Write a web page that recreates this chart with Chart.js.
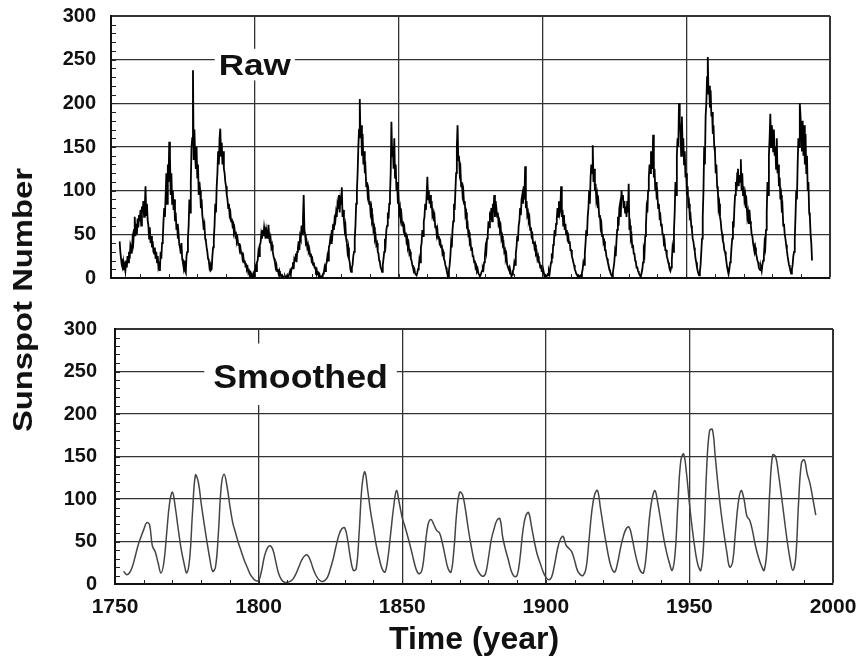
<!DOCTYPE html>
<html>
<head>
<meta charset="utf-8">
<script src="https://cdn.jsdelivr.net/npm/chart.js@4.4.1/dist/chart.umd.min.js"></script>
<style>
  html, body { margin: 0; padding: 0; background: #fff; }
  #wrap { position: relative; width: 861px; height: 670px; overflow: hidden; }
  #rawCanvas { position: absolute; left: 0; top: 0; }
  #smoothCanvas { position: absolute; left: 0; top: 300px; }
  #yTitle {
    position: absolute; left: 23px; top: 300px;
    font: bold 28px "Liberation Sans", Arial, sans-serif; color: #111;
    white-space: nowrap;
    transform: translate(-50%, -50%) rotate(-90deg) scaleX(1.17);
  }
</style>
</head>
<body>
<div id="wrap">
  <canvas id="rawCanvas" width="861" height="300"></canvas>
  <canvas id="smoothCanvas" width="861" height="370"></canvas>
  <div id="yTitle">Sunspot Number</div>
</div>
<script>
// tick labels
const yearTicks = [1750, 1800, 1850, 1900, 1950, 2000];
const countTicks = [0, 50, 100, 150, 200, 250, 300];

// raw series: 4 readings per year starting 1753
const rawStartYear = 1753;
const rawPerYear = 4;
const rawValues = [
  42,30,22,15, 12,18,9,14, 8,20,12,25, 18,30,22,38, 35,28,45,40,            // 1753
  55,70,48,62, 50,68,58,72, 65,78,60,82, 75,88,70,80, 105,72,85,66,         // 1758
  60,45,58,40, 48,35,42,30, 28,35,22,30, 18,25,12,15, 8,30,22,40,           // 1763
  45,65,80,70, 95,120,85,130, 110,156,140,95, 120,85,100,78, 90,65,75,55,   // 1768
  62,45,50,38, 35,28,40,22, 18,12,20,8, 6,25,30,45, 60,90,75,110,           // 1773
  150,160,238,135, 170,140,125,150, 115,130,95,110, 100,80,90,72, 65,55,60,45, // 1778
  42,35,30,22, 20,12,15,9, 10,25,35,45, 60,85,75,105, 120,145,130,160,      // 1783
  171,140,155,130, 145,125,120,110, 105,95,90,80, 85,72,75,65, 68,60,62,52, // 1788
  55,48,50,42, 45,38,40,32, 35,28,30,22, 25,18,20,14, 15,10,12,6,           // 1793
  8,4,6,2, 3,1,5,2, 6,12,8,18, 20,30,25,38, 40,50,45,55,                    // 1798
  48,58,52,45, 55,50,45,61, 48,40,45,35, 38,30,25,22, 18,12,15,8,           // 1803
  10,5,8,3, 4,2,3,0, 1,0,2,0, 1,3,0,2, 5,8,4,10,                            // 1808
  12,18,10,22, 20,28,18,30, 35,42,32,48, 45,60,50,68, 95,55,50,40,          // 1813
  42,35,38,30, 32,25,28,20, 22,15,18,12, 12,8,10,5, 6,2,4,0,                // 1818
  1,2,0,5, 6,12,8,15, 18,25,20,35, 38,45,40,55, 50,62,55,68,                // 1823
  65,75,70,85, 80,95,75,90, 85,104,70,78, 65,55,60,45, 40,30,35,22,         // 1828
  18,10,7,12, 15,25,30,45, 60,85,100,120, 150,170,205,160, 175,140,165,130, // 1833
  145,120,125,105, 110,95,100,85, 88,75,80,65, 68,55,58,45, 48,38,40,30,    // 1838
  28,20,18,12, 10,7,15,22, 30,45,40,55, 60,75,68,85, 95,120,179,140,        // 1843
  150,125,160,115, 130,100,110,85, 90,75,80,68, 72,60,65,55, 58,48,52,42,   // 1848
  45,35,38,28, 30,22,20,15, 12,8,10,5, 4,3,6,10, 12,22,18,35,               // 1853
  40,55,48,65, 70,85,78,95, 116,90,100,85, 95,80,88,72, 75,65,70,58,        // 1858
  60,50,55,45, 48,40,42,35, 38,28,30,22, 20,15,12,8, 5,2,8,15,              // 1863
  25,40,35,55, 65,85,78,100, 120,150,175,135, 140,120,125,105, 110,95,100,85, // 1868
  88,72,75,60, 62,50,52,40, 42,32,35,25, 25,18,20,12, 14,8,10,5,            // 1873
  4,2,3,6, 8,12,10,18, 25,35,30,45, 50,65,58,72, 70,80,65,85,               // 1878
  75,95,70,88, 80,70,75,62, 65,55,58,45, 48,38,40,30, 32,22,25,15,          // 1883
  15,10,12,5, 6,2,4,8, 10,18,15,28, 35,48,42,60, 65,80,72,90,               // 1888
  95,85,105,90, 128,80,88,72, 75,65,68,55, 58,48,50,40, 42,35,38,28,        // 1893
  30,22,25,18, 18,12,15,8, 8,5,6,2, 3,0,2,4, 3,8,5,12,                      // 1898
  18,28,22,38, 42,55,48,62, 68,80,70,88, 75,80,105,70, 78,60,72,55,         // 1903
  62,50,55,45, 48,40,42,32, 32,25,22,18, 15,10,8,5, 4,2,3,1,                // 1908
  1,3,2,6, 10,18,15,28, 40,55,48,70, 80,100,85,115, 130,120,152,110,        // 1913
  125,100,108,90, 95,80,85,70, 72,58,62,48, 50,40,42,32, 32,25,22,18,       // 1918
  15,10,8,5, 3,2,6,12, 18,30,25,42, 55,70,60,80, 85,70,100,90,              // 1923
  95,80,88,75, 82,70,88,75, 108,55,60,45, 48,35,38,28, 28,20,18,12,         // 1928
  12,8,6,4, 3,2,6,10, 18,32,28,48, 60,80,75,100, 115,130,120,145,           // 1933
  140,125,164,115, 125,100,110,90, 95,80,85,70, 72,60,62,50, 50,40,42,32,   // 1938
  32,25,22,18, 15,10,8,12, 20,35,30,55, 75,110,95,140, 160,150,200,180,     // 1943
  170,140,185,150, 160,130,145,115, 120,95,105,80, 85,70,72,60, 55,45,42,35, // 1948
  30,22,18,12, 8,5,3,7, 15,30,45,70, 100,150,130,185, 200,230,253,210,      // 1953
  220,195,215,185, 190,165,175,150, 145,120,130,105, 100,80,85,70, 65,55,50,42, // 1958
  40,32,30,25, 18,12,8,5, 10,18,22,35, 45,65,58,80, 95,110,100,120,         // 1963
  125,105,118,110, 136,100,120,95, 105,90,95,80, 85,70,75,62, 78,65,60,50,  // 1968
  48,40,35,30, 35,28,25,20, 18,12,10,9, 12,8,15,20, 25,40,35,55,            // 1973
  75,110,95,140, 160,188,150,175, 165,145,170,140, 150,125,160,120, 130,105,115,90, // 1978
  95,75,80,60, 62,50,45,38, 32,25,20,15, 12,8,5,10, 15,25,30,45,            // 1983
  70,100,90,130, 160,150,200,185, 170,145,180,140, 175,130,165,120, 140,100,110,75, // 1988
  70,50,40,20                                                               // 1993
];

// smoothed series: one value per year starting 1753
const smoothStartYear = 1753;
const smoothValues = [
  15,11,13,20,32,45,55,64,72,70,       // 1753
  45,38,25,13,25,60,95,108,90,65,      // 1763
  42,25,13,30,85,128,120,95,72,50,     // 1773
  30,15,20,60,115,129,115,92,72,60,    // 1783
  48,38,28,20,12,7,4,4,15,32,          // 1793
  42,45,40,26,12,5,2,2,3,6,            // 1803
  12,20,28,33,34,28,18,10,5,3,         // 1813
  4,8,18,30,45,58,65,66,52,30,         // 1823
  16,18,60,115,132,110,85,65,45,30,    // 1833
  18,14,30,60,90,110,95,78,67,55,      // 1843
  42,28,16,12,18,45,70,76,70,63,       // 1853
  60,48,32,18,14,40,85,108,105,88,     // 1863
  65,45,28,18,12,9,12,30,52,65,        // 1873
  75,77,55,40,28,15,9,10,30,62,        // 1883
  80,84,68,50,35,25,15,8,5,8,          // 1893
  22,40,52,56,46,42,38,28,16,11,       // 1903
  10,18,50,85,105,110,90,68,48,30,     // 1913
  18,14,25,42,56,65,67,55,38,24,       // 1923
  15,13,35,75,100,110,95,75,55,38,     // 1933
  25,16,35,95,145,153,130,95,65,40,    // 1943
  22,16,50,135,180,182,150,115,85,60,  // 1953
  38,20,25,60,95,110,100,80,75,62,     // 1963
  45,32,22,16,40,110,152,150,130,105,  // 1973
  78,52,30,16,30,95,142,146,130,118,   // 1983
  100,81                               // 1993
];

const panelLabels = ["Raw", "Smoothed"];

const FONT = '"Liberation Sans", Arial, Helvetica, sans-serif';

const rawPoints = rawValues.map((v, i) => ({ x: rawStartYear + i / rawPerYear, y: v }));
const smoothPoints = smoothValues.map((v, i) => ({ x: smoothStartYear + i, y: v }));

// label with white box behind it, drawn over the grid
const panelLabel = {
  id: "panelLabel",
  beforeDatasetsDraw(chart, args, o) {
    const { ctx, scales } = chart;
    const x = scales.x.getPixelForValue(o.x);
    const y = scales.y.getPixelForValue(o.y);
    ctx.save();
    ctx.font = "bold " + o.size + "px " + FONT;
    const w = ctx.measureText(o.text).width * o.stretch;
    const cap = o.size * 0.72;
    ctx.fillStyle = "#fff";
    ctx.fillRect(x - w / 2 - o.padX, y - cap - o.padTop, w + 2 * o.padX, cap + o.padTop + o.padBottom);
    ctx.translate(x, y);
    ctx.scale(o.stretch, 1);
    ctx.fillStyle = "#111";
    ctx.textAlign = "center";
    ctx.textBaseline = "alphabetic";
    ctx.fillText(o.text, 0, 0);
    ctx.restore();
  }
};

// small inward ticks on left and bottom edges
const minorTicks = {
  id: "minorTicks",
  afterDraw(chart) {
    const { ctx, chartArea: a, scales } = chart;
    ctx.save();
    ctx.strokeStyle = "#222";
    ctx.lineWidth = 1;
    ctx.beginPath();
    for (let v = 10; v < 300; v += 10) {
      const py = Math.round(scales.y.getPixelForValue(v)) + 0.5;
      ctx.moveTo(a.left, py);
      ctx.lineTo(a.left + 5, py);
    }
    for (let v = 1760; v < 2000; v += 10) {
      const px = Math.round(scales.x.getPixelForValue(v)) + 0.5;
      ctx.moveTo(px, a.bottom);
      ctx.lineTo(px, a.bottom - 4);
    }
    ctx.stroke();
    ctx.restore();
  }
};

// drop the label-overflow padding so layout.padding alone places the plot
function noOverflow(s) {
  s.paddingTop = 0;
  s.paddingBottom = 0;
  s.paddingLeft = 0;
  s.paddingRight = 0;
}

function makeOptions(cfg) {
  return {
    responsive: false,
    animation: false,
    devicePixelRatio: 1,
    layout: { padding: cfg.padding },
    plugins: {
      legend: { display: false },
      tooltip: { enabled: false },
      panelLabel: cfg.label
    },
    scales: {
      x: {
        type: "linear",
        min: 1750,
        max: 2000,
        afterBuildTicks: s => { s.ticks = yearTicks.map(v => ({ value: v })); },
        afterFit: s => { s.height = cfg.xHeight; noOverflow(s); },
        grid: {
          color: "#333",
          lineWidth: c => (c.tick && c.tick.value === 2000 ? 2 : 1.3),
          drawTicks: false
        },
        border: { color: "#111", width: 2 },
        ticks: {
          display: cfg.showX,
          color: "#111",
          padding: 11,
          maxRotation: 0,
          callback: v => String(v),
          font: { family: FONT, size: 21, weight: "bold" }
        },
        title: {
          display: cfg.showX,
          text: "Time (year)",
          color: "#111",
          padding: { top: 0, bottom: 11 },
          font: { family: FONT, size: 32, weight: "bold" }
        }
      },
      y: {
        type: "linear",
        min: 0,
        max: 300,
        afterBuildTicks: s => { s.ticks = countTicks.map(v => ({ value: v })); },
        afterFit: s => { s.width = cfg.yWidth; noOverflow(s); },
        grid: {
          color: "#333",
          lineWidth: c => (c.tick && c.tick.value === 300 ? 2 : 1.3),
          drawTicks: false
        },
        border: { color: "#111", width: 2 },
        ticks: {
          color: "#111",
          padding: cfg.yPad,
          font: { family: FONT, size: 20, weight: "bold" }
        }
      }
    }
  };
}

new Chart(document.getElementById("rawCanvas"), {
  type: "line",
  data: {
    datasets: [{
      label: panelLabels[0],
      data: rawPoints,
      borderColor: "#000",
      borderWidth: 1.8,
      pointRadius: 0,
      tension: 0
    }]
  },
  options: makeOptions({
    padding: { left: 0, top: 16, right: 31, bottom: 0 },
    xHeight: 22,
    yWidth: 111,
    yPad: 15,
    showX: false,
    label: { text: panelLabels[0], x: 1800, y: 232, size: 30, stretch: 1.17, padX: 4, padTop: 5, padBottom: 5 }
  }),
  plugins: [panelLabel, minorTicks]
});

new Chart(document.getElementById("smoothCanvas"), {
  type: "line",
  data: {
    datasets: [{
      label: panelLabels[1],
      data: smoothPoints,
      borderColor: "#444",
      borderWidth: 1.5,
      pointRadius: 0,
      tension: 0.4
    }]
  },
  options: makeOptions({
    padding: { left: 0, top: 29, right: 28, bottom: 0 },
    xHeight: 86,
    yWidth: 115,
    yPad: 18,
    showX: true,
    label: { text: panelLabels[1], x: 1814.6, y: 230.6, size: 34, stretch: 1.05, padX: 9, padTop: 20, padBottom: 17 }
  }),
  plugins: [panelLabel, minorTicks]
});
</script>
</body>
</html>
